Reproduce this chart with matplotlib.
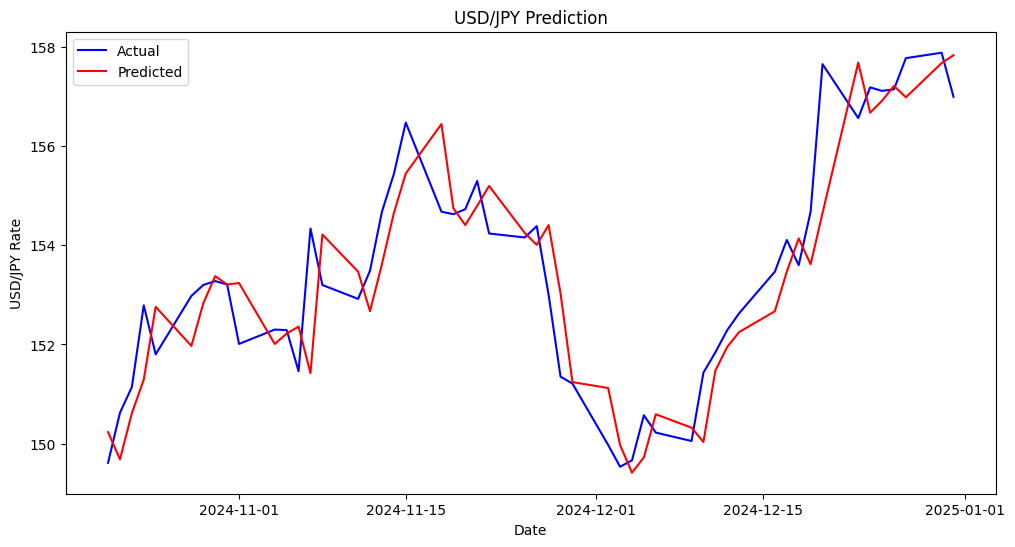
import matplotlib
matplotlib.use("Agg")
import matplotlib.pyplot as plt
import matplotlib.dates as mdates
import pandas as pd

dates = pd.bdate_range("2024-10-21", "2024-12-31")

actual = [
    149.61, 150.62, 151.14, 152.79, 151.80,
    152.98, 153.20, 153.28, 153.21, 152.01,
    152.30, 152.29, 151.46, 154.34, 153.20,
    152.92, 153.49, 154.68, 155.44, 156.48,
    154.68, 154.63, 154.73, 155.30, 154.24,
    154.16, 154.39, 153.00, 151.35, 151.21,
    149.97, 149.53, 149.66, 150.57, 150.22,
    150.05, 151.43, 151.84, 152.29, 152.63,
    153.47, 154.11, 153.60, 154.68, 157.66,
    156.57, 157.19, 157.12, 157.15, 157.78,
    157.89, 157.00,
]

predicted = [
    150.23, 149.68, 150.61, 151.29, 152.76,
    151.97, 152.83, 153.38, 153.21, 153.24,
    152.01, 152.22, 152.36, 151.42, 154.22,
    153.47, 152.67, 153.62, 154.65, 155.45,
    156.45, 154.75, 154.41, 154.80, 155.20,
    154.25, 154.01, 154.41, 153.03, 151.24,
    151.12, 149.97, 149.41, 149.72, 150.59,
    150.32, 150.03, 151.47, 151.95, 152.25,
    152.67, 153.47, 154.14, 153.62, 154.65,
    157.69, 156.68, 156.92, 157.22, 156.99,
    157.68, 157.84,
]

fig, ax = plt.subplots(figsize=(12, 6), dpi=100)
ax.plot(dates, actual, color="blue", label="Actual")
ax.plot(dates, predicted, color="red", label="Predicted")
ax.set_title("USD/JPY Prediction")
ax.set_xlabel("Date")
ax.set_ylabel("USD/JPY Rate")
ax.xaxis.set_major_locator(mdates.DayLocator(bymonthday=[1, 15]))
ax.xaxis.set_major_formatter(mdates.DateFormatter("%Y-%m-%d"))
ax.legend(loc="upper left")
fig.savefig("out.png", dpi=100, bbox_inches="tight")
